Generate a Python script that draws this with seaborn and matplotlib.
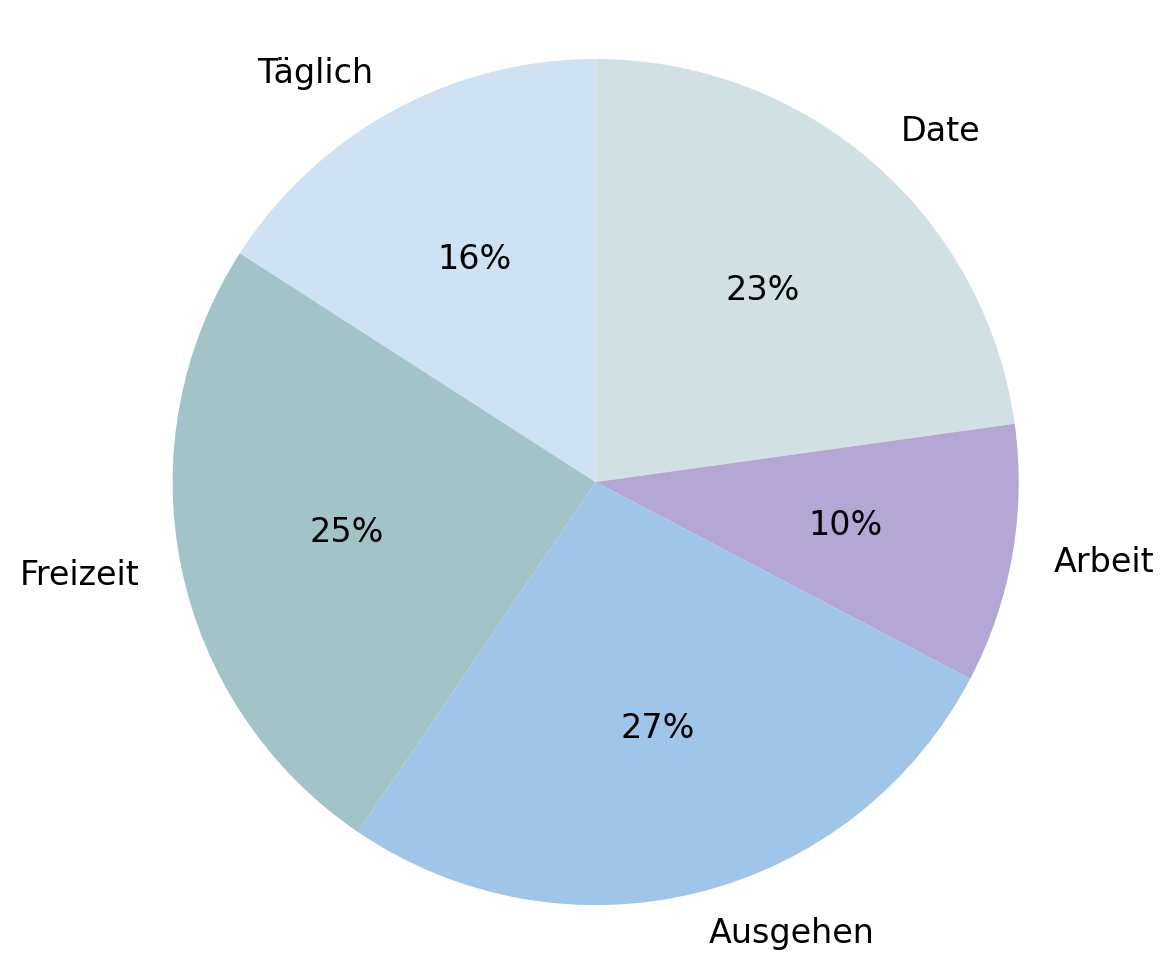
import matplotlib
matplotlib.use("Agg")
import matplotlib.pyplot as plt
import seaborn as sns

# data (clockwise from 12 o'clock)
categories = ["Date", "Arbeit", "Ausgehen", "Freizeit", "Täglich"]
shares = [22.8, 9.9, 26.8, 24.6, 15.9]
slice_colors = ["#d0e0e3", "#b4a7d6", "#9fc5e8", "#a2c4c9", "#cfe2f3"]

sns.set_theme(style="white")
plt.rcParams["font.family"] = ["DejaVu Sans"]

fig = plt.figure(figsize=(11.74, 9.69), dpi=100)
ax = fig.add_axes([0, 0, 1, 1])
palette = sns.color_palette(slice_colors)

ax.pie(
    shares,
    labels=categories,
    colors=palette,
    autopct="%1.0f%%",
    startangle=90,
    counterclock=False,
    pctdistance=0.6,
    labeldistance=1.1,
    wedgeprops={"linewidth": 0, "edgecolor": "none"},
    textprops={"fontsize": 24, "color": "black"},
)
ax.set_aspect("auto")
ax.set_xlim(-1.408, 1.367)
ax.set_ylim(-1.151, 1.1395)
ax.axis("off")

fig.savefig("out.png", dpi=100)
